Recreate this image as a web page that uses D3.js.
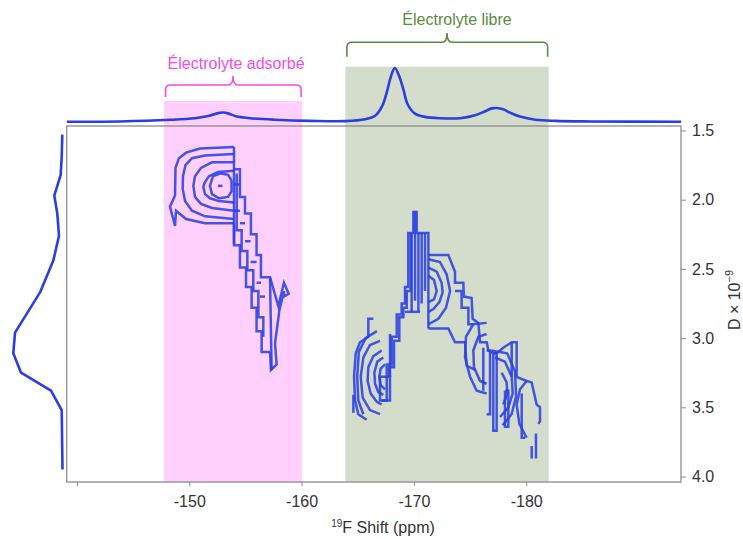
<!DOCTYPE html>
<html><head><meta charset="utf-8">
<script src="https://cdn.jsdelivr.net/npm/d3@7"></script>
<style>body{margin:0;background:#fff}svg{display:block;font-family:"Liberation Sans",Arial,sans-serif}</style>
</head><body><svg id="c" width="743" height="539"></svg>
<script>
// ---------------- DATA ----------------
const xTicks = [-140, -150, -160, -170, -180];
const xTickLabels = ["", "-150", "-160", "-170", "-180"];
const yTicks = [1.5, 2.0, 2.5, 3.0, 3.5, 4.0];
const yTickLabels = ["1.5", "2.0", "2.5", "3.0", "3.5", "4.0"];

const regionNames = ["Électrolyte adsorbé", "Électrolyte libre"];
const regionStart = [-147.75, -163.9];
const regionEnd = [-160.05, -182.0];

// 1D 19F projection (top)
const topShift = [-139.1,-143.8,-148.3,-150.5,-151.8,-152.55,-153.0,-153.45,-154.15,-155.4,-157.6,-160.75,-163.9,-165.65,-166.55,-167.15,-167.6,-167.95,-168.3,-168.65,-169.05,-169.45,-170.1,-171.0,-172.3,-174.1,-175.45,-176.35,-176.95,-177.4,-177.95,-178.55,-179.45,-180.8,-182.6,-185.7,-193.8];
const topIntensity = [0,0.5,3.5,6.5,11,16,17,15.5,10,6.5,3.7,1.5,1,4.5,11,28,56,84,100,87,61,32,15,9,6.5,6.5,12,19.5,24.8,25.5,23,17,9.5,3.7,1.5,0.5,0];

// diffusion projection (left)
const sideD = [1.53,1.69,1.82,1.97,2.10,2.26,2.44,2.67,2.96,3.11,3.25,3.38,3.52,3.95];
const sideIntensity = [0.4,1.6,3.7,16.7,10.6,7.1,18.7,45.7,96.5,100,84.3,23.4,1.6,0];

// contour polylines [shift ppm, D]
const contoursAdsorbed = [
 [[-153.98,1.62],[-150.95,1.63],[-149.71,1.66],[-149.08,1.70],[-148.77,1.77],[-148.73,1.97],[-148.28,2.05],[-148.73,2.19],[-148.82,2.08],[-149.71,2.14],[-151.40,2.17],[-153.98,2.17]],
 [[-153.98,1.67],[-151.40,1.68],[-150.24,1.70],[-149.66,1.75],[-149.44,1.83],[-149.41,1.92],[-149.62,2.01],[-150.24,2.08],[-151.40,2.12],[-153.98,2.14]],
 [[-153.98,1.73],[-152.02,1.73],[-151.04,1.77],[-150.51,1.83],[-150.36,1.90],[-150.51,1.98],[-151.04,2.03],[-152.02,2.06],[-153.98,2.08]],
 [[-153.98,1.79],[-152.56,1.80],[-151.75,1.83],[-151.35,1.88],[-151.25,1.91],[-151.40,1.96],[-151.84,1.99],[-152.64,2.01],[-153.98,2.02]],
 [[-153.76,1.86],[-153.45,1.82],[-152.82,1.81],[-152.11,1.83],[-151.84,1.90],[-152.02,1.96],[-152.64,1.99],[-153.45,1.98],[-153.76,1.94],[-153.76,1.86]],
 [[-152.55,1.90],[-152.95,1.90]],
 [[-153.98,1.62],[-153.98,2.32]],
 [[-153.98,1.78],[-154.51,1.78],[-154.51,1.98],[-154.96,1.98],[-154.96,2.10],[-155.49,2.10],[-155.49,2.25],[-155.99,2.25],[-155.99,2.40],[-156.38,2.40],[-156.38,2.56],[-157.19,2.56],[-157.93,2.77],[-158.31,2.64],[-158.43,2.60],[-158.85,2.68],[-158.43,2.70],[-158.43,2.66],[-158.02,2.80],[-157.63,3.04],[-157.78,3.19],[-157.27,3.23],[-157.19,3.10]],
 [[-153.98,2.17],[-153.98,2.33],[-154.51,2.33],[-154.51,2.49],[-155.05,2.49],[-155.05,2.63],[-155.55,2.63],[-155.55,2.78],[-155.99,2.78],[-155.99,2.95],[-156.44,2.95],[-156.44,3.10],[-157.19,3.10]],
 [[-154.22,1.81],[-154.22,2.22],[-154.66,2.22],[-154.66,2.37],[-155.17,2.37],[-155.17,2.51],[-155.70,2.51],[-155.70,2.66],[-156.15,2.66],[-156.15,2.85],[-156.59,2.85],[-156.59,2.99]],
 [[-153.98,1.89],[-154.51,1.89]],
 [[-153.98,2.08],[-154.51,2.08]],
 [[-154.51,2.17],[-154.96,2.17]],
 [[-154.96,2.30],[-155.46,2.30]],
 [[-155.46,2.45],[-155.99,2.45]],
 [[-155.99,2.60],[-156.38,2.60]],
 [[-156.29,2.70],[-156.74,2.70]],
 [[-157.19,2.57],[-157.27,2.95],[-157.33,3.23]]
];

const contoursFree = [
 [[-169.95,2.08],[-169.95,2.24],[-169.50,2.24],[-169.50,2.63],[-169.21,2.63],[-169.21,2.75],[-168.91,2.75],[-168.91,2.83],[-168.47,2.83],[-168.47,2.99],[-168.02,2.99],[-168.02,3.19],[-167.58,3.19],[-167.58,3.45],[-167.13,3.45]],
 [[-170.25,2.08],[-170.25,2.24],[-171.29,2.24],[-171.29,2.40]],
 [[-169.80,2.24],[-169.80,2.81]],
 [[-170.10,2.08],[-170.10,2.73]],
 [[-170.40,2.24],[-170.40,2.81]],
 [[-170.69,2.24],[-170.69,2.75]],
 [[-170.99,2.24],[-170.99,2.66]],
 [[-169.21,2.81],[-170.54,2.81]],
 [[-169.71,2.24],[-169.71,2.66],[-169.36,2.66],[-169.36,2.78],[-169.06,2.78],[-169.06,2.85],[-168.70,2.85],[-168.70,3.02],[-168.23,3.02],[-168.23,3.21],[-167.81,3.21],[-167.81,3.28]],
 [[-171.29,2.40],[-173.07,2.40],[-173.66,2.52],[-173.66,2.60],[-174.40,2.60],[-174.46,2.70],[-175.14,2.71],[-175.23,2.86],[-175.74,2.89],[-175.89,3.03],[-176.48,3.03],[-176.63,3.09],[-177.07,3.11],[-177.37,3.11],[-177.96,3.07],[-178.71,3.03],[-179.15,3.03],[-179.15,3.28],[-180.04,3.31],[-180.49,3.32],[-180.93,3.48],[-181.23,3.50],[-181.23,3.60],[-181.08,3.62]],
 [[-171.29,2.43],[-172.32,2.45],[-172.92,2.54],[-173.22,2.66],[-172.86,2.78],[-172.18,2.86],[-171.29,2.90]],
 [[-171.29,2.49],[-172.03,2.52],[-172.47,2.60],[-172.56,2.67],[-172.27,2.74],[-171.73,2.79],[-171.29,2.81]],
 [[-171.29,2.55],[-171.79,2.58],[-172.03,2.66],[-171.79,2.72],[-171.29,2.74]],
 [[-171.29,2.40],[-171.29,2.93]],
 [[-171.29,2.93],[-173.07,2.93],[-173.66,3.03],[-174.55,3.03],[-174.70,3.20],[-175.44,3.23]],
 [[-173.66,2.66],[-174.25,2.66],[-174.25,2.78],[-174.85,2.78],[-174.85,2.90],[-175.29,2.90]],
 [[-176.48,2.89],[-175.29,2.90],[-174.64,2.99],[-174.55,3.14],[-175.00,3.28],[-175.59,3.38],[-176.48,3.40]],
 [[-176.48,2.97],[-175.74,2.99],[-175.29,3.09],[-175.35,3.21],[-175.89,3.31],[-176.48,3.33]],
 [[-177.22,3.14],[-178.11,3.17],[-178.71,3.28],[-178.80,3.40],[-178.41,3.50],[-177.67,3.57]],
 [[-176.90,3.09],[-178.30,3.11],[-179.00,3.24],[-179.10,3.42],[-178.70,3.55],[-177.90,3.63]],
 [[-177.82,3.25],[-178.26,3.32],[-178.32,3.40],[-177.96,3.48]],
 [[-180.04,3.31],[-179.45,3.37],[-179.15,3.48],[-179.39,3.62],[-180.04,3.72]],
 [[-177.07,3.11],[-177.37,3.11],[-177.37,3.67],[-177.07,3.67],[-177.07,3.11]],
 [[-176.48,3.09],[-176.78,3.09],[-176.78,3.55],[-176.48,3.55]],
 [[-178.11,3.38],[-178.41,3.38],[-178.41,3.64],[-178.11,3.64],[-178.11,3.38]],
 [[-178.71,3.03],[-178.71,3.28]],
 [[-176.18,3.07],[-176.18,3.38]],
 [[-179.60,3.40],[-179.60,3.72],[-179.90,3.72]],
 [[-180.49,3.78],[-180.49,3.87]],
 [[-180.87,3.69],[-180.87,3.87]],
 [[-166.39,2.86],[-165.94,2.86],[-165.94,2.99],[-165.20,3.03],[-164.82,3.11],[-164.67,3.28],[-164.76,3.45],[-165.05,3.55],[-165.79,3.59]],
 [[-164.61,3.41],[-164.61,3.54]],
 [[-166.70,2.95],[-165.70,3.00],[-165.10,3.10],[-164.95,3.28],[-165.05,3.45],[-165.50,3.55]],
 [[-166.98,3.02],[-166.09,3.05],[-165.50,3.14],[-165.26,3.28],[-165.44,3.43],[-166.09,3.52],[-166.98,3.55]],
 [[-167.13,3.09],[-166.39,3.13],[-165.94,3.21],[-165.88,3.31],[-166.15,3.40],[-166.69,3.46],[-167.13,3.48]],
 [[-167.28,3.14],[-166.74,3.17],[-166.48,3.25],[-166.54,3.33],[-166.83,3.39],[-167.28,3.41]],
 [[-167.43,3.19],[-167.04,3.22],[-166.92,3.28],[-167.04,3.34],[-167.43,3.37]],
 [[-166.98,3.28],[-167.87,3.28],[-167.87,3.45],[-166.98,3.45],[-166.98,3.28]],
 [[-167.87,2.97],[-167.87,3.28]]
];

// ---------------- LAYOUT ----------------
const svg = d3.select("#c");
const box = {left: 66.7, right: 681, top: 126, bottom: 482};
const x = d3.scaleLinear().domain([-140, -190]).range([77.0, 638.5]);
const y = d3.scaleLinear().domain([1.5, 4.0]).range([130.5, 476.5]);
const yTop = d3.scaleLinear().domain([0, 100]).range([121.7, 68]);
const xSide = d3.scaleLinear().domain([0, 100]).range([62.5, 13.3]);

const bandStyle = [
  {fill: "#ffd0fb", color: "#f44be6", top: 101, brY: 85, brEnd: 97, brTip: 76, labelY: 69, labelDx: 3},
  {fill: "#d4ddcb", color: "#5c8a3e", top: 66.7, brY: 42.3, brEnd: 56.7, brTip: 33, labelY: 25, labelDx: 10}
];
const lineBlue = "#2a3ee2";

// bands
regionNames.forEach((name, i) => {
  const s = bandStyle[i];
  const x0 = x(regionStart[i]), x1 = x(regionEnd[i]);
  svg.append("rect").attr("x", x0).attr("y", s.top)
    .attr("width", x1 - x0).attr("height", box.bottom - s.top).attr("fill", s.fill);
  const xc = (x0 + x1) / 2, r = 5, yH = s.brY;
  const bx0 = x0 + 1.5, bx1 = x1 - 1;
  const p = `M${bx0},${s.brEnd} L${bx0},${yH + r} Q${bx0},${yH} ${bx0 + r},${yH} L${xc - r},${yH} Q${xc},${yH} ${xc},${s.brTip} Q${xc},${yH} ${xc + r},${yH} L${bx1 - r},${yH} Q${bx1},${yH} ${bx1},${yH + r} L${bx1},${s.brEnd}`;
  svg.append("path").attr("d", p).attr("fill", "none").attr("stroke", s.color).attr("stroke-width", 1.6);
  svg.append("text").attr("x", xc + s.labelDx).attr("y", s.labelY).attr("text-anchor", "middle")
    .attr("font-size", 16).attr("fill", s.color).text(name);
});

// contours
const cLine = d3.line().x(d => x(d[0])).y(d => y(d[1]));
const cg = svg.append("g").attr("fill", "none").attr("stroke", "#2c40e4").attr("stroke-opacity", 0.88)
  .attr("stroke-width", 2.5).attr("stroke-linejoin", "miter");
contoursAdsorbed.concat(contoursFree).forEach(c => cg.append("path").attr("d", cLine(c)));

// frame
svg.append("rect").attr("x", box.left).attr("y", box.top)
  .attr("width", box.right - box.left).attr("height", box.bottom - box.top)
  .attr("fill", "none").attr("stroke", "#8c8c8c").attr("stroke-width", 1.3);

// top projection
const topData = topShift.map((v, i) => [v, topIntensity[i]]);
svg.append("path").datum(topData)
  .attr("d", d3.line().x(d => x(d[0])).y(d => yTop(d[1])).curve(d3.curveCatmullRom.alpha(0.5)))
  .attr("fill", "none").attr("stroke", lineBlue).attr("stroke-width", 2.6);

// left projection
const sideData = sideD.map((v, i) => [v, sideIntensity[i]]);
svg.append("path").datum(sideData)
  .attr("d", d3.line().x(d => xSide(d[1])).y(d => y(d[0])))
  .attr("fill", "none").attr("stroke", lineBlue).attr("stroke-width", 2.6).attr("stroke-linejoin", "round");

// axes
const xAxis = d3.axisBottom(x).tickValues(xTicks).tickSize(4).tickPadding(10)
  .tickFormat((d, i) => xTickLabels[i]);
const gx = svg.append("g").attr("transform", `translate(0,${box.bottom})`).call(xAxis);
gx.select(".domain").remove();
gx.selectAll("line").attr("stroke", "#8c8c8c");
gx.selectAll("text").attr("font-size", 16).attr("fill", "#333").attr("font-family", "Liberation Sans, Arial, sans-serif");

const yAxis = d3.axisRight(y).tickValues(yTicks).tickSize(5).tickPadding(6)
  .tickFormat((d, i) => yTickLabels[i]);
const gy = svg.append("g").attr("transform", `translate(${box.right},0)`).call(yAxis);
gy.select(".domain").remove();
gy.selectAll("line").attr("stroke", "#8c8c8c");
gy.selectAll("text").attr("font-size", 16).attr("fill", "#333").attr("font-family", "Liberation Sans, Arial, sans-serif");

// axis titles
const xt = svg.append("text").attr("x", 383).attr("y", 533).attr("text-anchor", "middle")
  .attr("font-size", 16).attr("fill", "#333");
xt.append("tspan").attr("font-size", 10).attr("dy", -6).text("19");
xt.append("tspan").attr("dy", 6).text("F Shift (ppm)");

const yt = svg.append("text").attr("transform", "translate(740,300) rotate(-90)")
  .attr("text-anchor", "middle").attr("font-size", 16).attr("fill", "#333");
yt.append("tspan").text("D × 10");
yt.append("tspan").attr("font-size", 11).attr("dy", -7).text("−9");
</script>
</body></html>
